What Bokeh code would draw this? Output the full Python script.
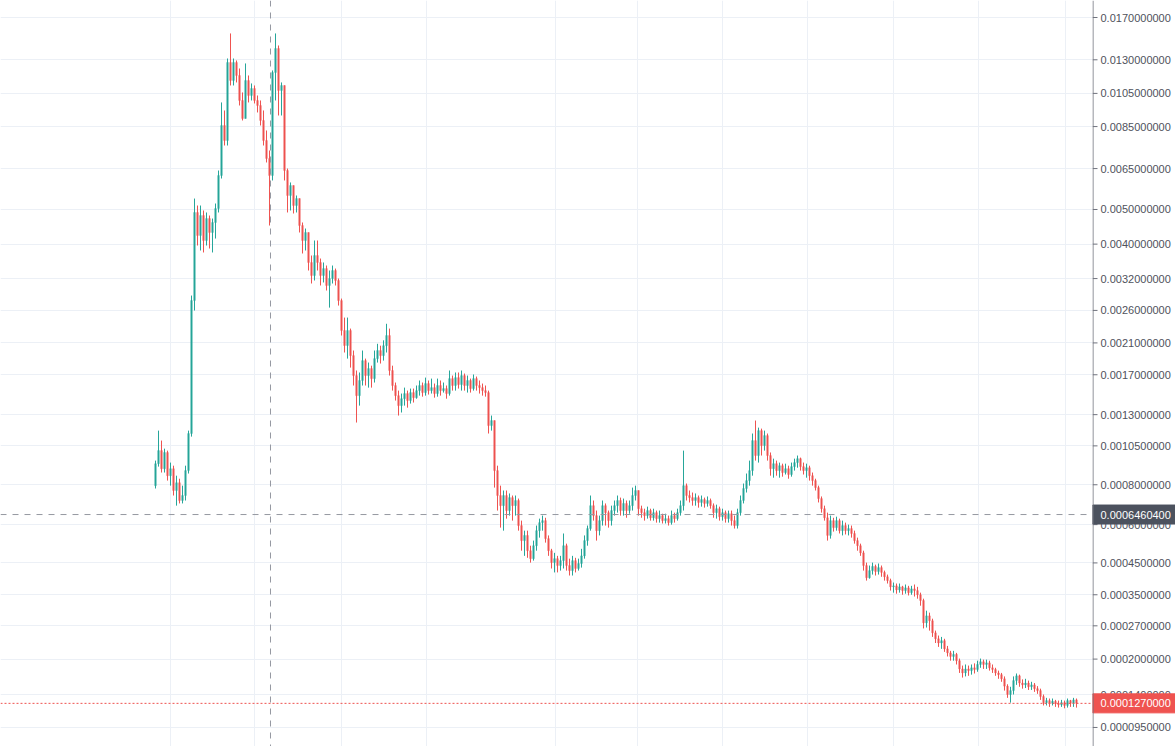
import numpy as np
from bokeh.plotting import figure
from bokeh.layouts import row
from bokeh.models import FixedTicker, Span, Grid, ColumnDataSource, Range1d
from bokeh.core.properties import value
from bokeh.embed import file_html
from bokeh.resources import INLINE

# ---------------- data (prices in micro units: value * 1e-6) ----------------
UNIT = 1e-6
first_open_u = 795

close_u = [
    928, 1016, 896, 1003, 853, 896, 768, 812, 715, 741, 884,
    1143, 2773, 4905, 4229,
    4810, 4095, 4717, 4312, 4599, 5030,
    6218, 8559, 7778, 12783, 11400, 12783, 11767, 10038, 8948,
    11400, 10361, 10832, 10038, 9722, 8837, 7778, 6932, 6218, 11996,
    13967, 10697, 11042, 6420, 5470, 5832, 5129, 5364, 4510, 4095,
    4312, 3552, 3264, 3716, 3552, 3264, 3415, 3059, 3201, 3372,
    3160, 2773, 2279, 2064, 2279, 1931, 1691, 1478, 1636, 1868,
    1691, 1772, 1657, 1893, 1997, 1931, 2062, 2205, 1749, 1582,
    1478, 1382, 1448, 1499, 1430, 1509, 1458, 1529, 1582, 1509,
    1603, 1529, 1560, 1499, 1582, 1529, 1550, 1499, 1657, 1582,
    1668, 1592, 1691, 1582, 1636, 1550, 1657, 1582, 1560, 1529,
    1509, 1207, 1249, 884, 741, 689, 741, 665, 730, 689,
    715, 596, 533, 554, 494, 465, 513, 574, 609, 618,
    541, 494, 451, 465, 441, 458, 513, 441, 424, 458,
    431, 448, 475, 533, 583, 689, 641, 574, 618, 689,
    655, 618, 665, 689, 715, 665, 700, 665, 689, 741,
    768, 674, 655, 641, 665, 631, 655, 627, 641, 618,
    627, 609, 641, 627, 655, 689, 795, 741, 730, 715,
    730, 705, 720, 700, 715, 689, 655, 674, 636, 655,
    627, 650, 618, 596, 655, 715, 779, 824, 884, 1089,
    982, 1166, 1052, 1127, 982, 896, 928, 884, 915, 872,
    896, 860, 909, 935, 961, 909, 884, 902, 853, 824,
    784, 725, 674, 631, 554, 618, 587, 618, 574, 596,
    574, 583, 562, 533, 513, 486, 441, 401, 424, 438,
    421, 434, 418, 404, 392, 373, 376, 364, 373, 362,
    370, 356, 367, 362, 350, 334, 277, 294, 282, 254,
    241, 232, 237, 220, 212, 205, 209, 197, 182, 175,
    182, 179, 184, 181, 190, 195, 190, 193, 184, 181,
    175, 172, 165, 153, 140, 146, 162, 170, 158, 155,
    158, 152, 155, 149, 146, 137, 128, 131, 127, 130,
    127, 125, 128, 124, 131, 127, 132, 127,
]

high_u = [
    948, 1166, 1089, 1030, 1016, 935, 915, 853, 835, 795, 915,
    1166, 2865, 5364, 5129,
    5129, 4968, 4905, 4810, 4717, 5196,
    6420, 9912, 9418, 13108, 15366, 13108, 12945, 12301, 10563,
    12701, 11767, 11186, 11042, 10361, 10038, 9418, 8291, 7297, 12148,
    15366, 14237, 11257, 10832, 6502, 5947, 5832, 5470, 5297, 4599,
    4423, 4312, 3716, 4095, 4095, 3644, 3552, 3483, 3372, 3483,
    3415, 3201, 2809, 2481, 2481, 2308, 1997, 1749, 1726, 1997,
    1893, 1844, 1806, 1997, 2088, 2062, 2136, 2382, 2308, 1806,
    1614, 1529, 1499, 1560, 1529, 1550, 1550, 1582, 1636, 1614,
    1668, 1636, 1657, 1603, 1657, 1636, 1614, 1582, 1749, 1691,
    1726, 1726, 1749, 1714, 1691, 1657, 1703, 1680, 1636, 1603,
    1582, 1529, 1292, 1249, 915, 795, 768, 768, 752, 741,
    741, 725, 618, 574, 574, 513, 533, 596, 627, 641,
    631, 554, 501, 486, 475, 475, 562, 521, 465, 475,
    468, 465, 501, 554, 596, 741, 715, 665, 641, 715,
    700, 665, 689, 715, 741, 730, 725, 715, 715, 784,
    795, 768, 689, 674, 684, 674, 674, 665, 665, 650,
    650, 641, 665, 655, 674, 715, 1016, 807, 768, 757,
    752, 741, 741, 730, 736, 725, 700, 694, 684, 674,
    665, 665, 665, 641, 674, 741, 807, 866, 948, 1143,
    1249, 1190, 1182, 1166, 1143, 1003, 961, 948, 935, 928,
    928, 915, 935, 961, 982, 968, 935, 928, 915, 872,
    835, 795, 736, 689, 655, 641, 631, 636, 627, 618,
    609, 600, 596, 574, 545, 521, 494, 451, 441, 451,
    444, 448, 441, 424, 411, 398, 386, 383, 383, 376,
    380, 376, 376, 380, 373, 356, 339, 307, 302, 287,
    259, 248, 245, 241, 226, 216, 216, 212, 201, 188,
    190, 188, 190, 192, 197, 201, 199, 199, 197, 190,
    184, 179, 175, 169, 156, 152, 169, 174, 172, 164,
    165, 162, 160, 158, 153, 149, 140, 135, 134, 134,
    132, 131, 132, 131, 134, 132, 135, 134,
]

low_u = [
    779, 909, 872, 872, 824, 795, 741, 689, 700, 700, 715,
    866, 1119, 2598, 3964,
    3839, 3790, 3964, 3888, 3790, 4147,
    4905, 6099, 7533, 7533, 11042, 11042, 11257, 9722, 8837,
    8948, 9912, 10038, 9848, 9300, 8559, 7533, 6759, 4510, 6023,
    10038, 9122, 9122, 6023, 4905, 4968, 4873, 4905, 4312, 3765,
    3839, 3372, 3099, 3160, 3372, 3059, 3120, 2961, 2648, 3099,
    3059, 2684, 2205, 1971, 1893, 1783, 1582, 1232, 1382, 1582,
    1582, 1560, 1560, 1614, 1844, 1832, 1868, 1971, 1691, 1529,
    1430, 1292, 1319, 1382, 1363, 1401, 1411, 1448, 1478, 1468,
    1478, 1489, 1499, 1458, 1468, 1478, 1509, 1448, 1478, 1529,
    1529, 1550, 1529, 1529, 1509, 1509, 1529, 1529, 1499, 1478,
    1468, 1143, 1166, 784, 665, 587, 574, 627, 641, 618,
    641, 574, 494, 475, 468, 451, 458, 494, 545, 574,
    525, 475, 431, 418, 418, 424, 431, 424, 408, 408,
    418, 424, 434, 465, 513, 574, 618, 533, 554, 596,
    596, 587, 596, 641, 655, 641, 641, 631, 650, 665,
    715, 641, 631, 618, 627, 618, 618, 609, 609, 605,
    605, 596, 600, 609, 618, 641, 665, 715, 705, 689,
    689, 679, 684, 679, 684, 674, 631, 627, 618, 618,
    609, 609, 596, 583, 583, 641, 700, 757, 795, 853,
    948, 935, 982, 1016, 948, 853, 841, 853, 841, 847,
    860, 835, 847, 884, 902, 884, 860, 841, 824, 795,
    768, 705, 655, 618, 533, 541, 570, 574, 562, 554,
    558, 554, 545, 521, 494, 475, 424, 392, 398, 411,
    408, 411, 404, 392, 383, 362, 356, 353, 356, 350,
    353, 348, 350, 345, 339, 320, 264, 266, 259, 245,
    232, 224, 220, 214, 205, 197, 197, 190, 175, 167,
    169, 170, 172, 174, 177, 184, 182, 182, 179, 175,
    170, 165, 160, 146, 135, 128, 140, 155, 152, 149,
    150, 147, 147, 144, 141, 132, 124, 124, 122, 124,
    122, 121, 122, 120, 121, 122, 122, 121,
]

# price-scale tick values
y_tick_values = [0.017, 0.013, 0.0105, 0.0085, 0.0065, 0.005, 0.004, 0.0032,
                 0.0026, 0.0021, 0.0017, 0.0013, 0.00105, 0.0008, 0.0006,
                 0.00045, 0.00035, 0.00027, 0.0002, 0.00014, 0.000095]
# candle indices where the time-scale grid lines fall (month starts)
month_start_index = [5, 33, 62, 90.3, 133.3, 160.7, 189, 217.3, 246, 274.3, 303.3]

crosshair_index = 38.33
crosshair_price = 0.00064604
last_price = 0.000127

UP = "#26a69a"
DOWN = "#ef5350"
GRID = "#ecf0f6"
TEXT = "#4f525c"
AXIS = "#6f727d"
CROSS = "#9598a1"
FONT = "Liberation Sans"
FONT_SIZE = "11px"

# TradingView-style log price scale: log10(price + offset)
LOG_OFFSET = 1e-4


def tv_log(p):
    return np.log10(np.asarray(p, dtype=float) + LOG_OFFSET)


def fmt(v):
    return f"{v:.10f}"


close = np.array(close_u, dtype=float) * UNIT
high = np.array(high_u, dtype=float) * UNIT
low = np.array(low_u, dtype=float) * UNIT
open_ = np.concatenate([[first_open_u * UNIT], close[:-1]])
high = np.maximum(high, np.maximum(open_, close))
low = np.minimum(low, np.minimum(open_, close))
idx = np.arange(len(close))

colors = [UP if c >= o else DOWN for o, c in zip(open_, close)]
src = ColumnDataSource(dict(
    x=idx,
    hi=tv_log(high),
    lo=tv_log(low),
    top=tv_log(np.maximum(open_, close)),
    bot=tv_log(np.minimum(open_, close)),
    color=colors,
))

H = 746
y_range = Range1d(-3.762071, -1.720473)
tick_pos = [float(v) for v in tv_log(y_tick_values)]

# ---------------- main pane ----------------
p = figure(width=1092, height=H, output_backend="svg", toolbar_location=None,
           x_range=Range1d(-51.667, 312.333), y_range=y_range,
           x_axis_location=None, y_axis_location=None, min_border=0)
p.outline_line_color = None
p.background_fill_color = "white"
p.border_fill_color = "white"
p.grid.grid_line_color = None

p.add_layout(Grid(dimension=1, ticker=FixedTicker(ticks=tick_pos),
                  grid_line_color=GRID, grid_line_width=1))
p.add_layout(Grid(dimension=0, ticker=FixedTicker(ticks=month_start_index),
                  grid_line_color=GRID, grid_line_width=1))

p.segment(x0="x", y0="lo", x1="x", y1="hi", source=src, line_color="color", line_width=1)
p.vbar(x="x", width=0.55, top="top", bottom="bot", source=src,
       fill_color="color", line_color="color", line_width=0.3)

p.add_layout(Span(location=float(tv_log(last_price)), dimension="width",
                  line_color=DOWN, line_dash="2 2", line_width=1))
p.add_layout(Span(location=float(tv_log(crosshair_price)), dimension="width",
                  line_color=CROSS, line_dash="6 6", line_width=1))
p.add_layout(Span(location=crosshair_index, dimension="height",
                  line_color=CROSS, line_dash="6 6", line_width=1))

# ---------------- price scale pane (shares the y scale) ----------------
SW = 83
s = figure(width=SW, height=H, output_backend="svg", toolbar_location=None,
           x_range=Range1d(0, SW), y_range=y_range,
           x_axis_location=None, y_axis_location=None, min_border=0)
s.outline_line_color = None
s.background_fill_color = "white"
s.border_fill_color = "white"
s.grid.grid_line_color = None

tick_src = ColumnDataSource(dict(y=tick_pos, label=[fmt(v) for v in y_tick_values]))
s.add_layout(Span(location=0.5, dimension="height", line_color=AXIS, line_width=1))
s.segment(x0=0, x1=5, y0="y", y1="y", source=tick_src, line_color=AXIS, line_width=1)
s.text(x=8, y="y", text="label", source=tick_src, text_font=value(FONT),
       text_font_size=FONT_SIZE, text_color=TEXT, text_baseline="middle", text_align="left")

badge_src = ColumnDataSource(dict(
    y=[float(v) for v in tv_log([crosshair_price, last_price])],
    label=[fmt(crosshair_price), fmt(last_price)],
    bg=["#4c525e", DOWN],
))
s.rect(x=SW / 2, y="y", width=SW, height=19, height_units="screen", source=badge_src,
       fill_color="bg", line_color="bg")
s.text(x=8, y="y", text="label", source=badge_src, text_font=value(FONT),
       text_font_size=FONT_SIZE, text_color="white", text_baseline="middle", text_align="left")

layout = row(p, s, spacing=0)
open("out.html", "w").write(file_html(layout, INLINE))
